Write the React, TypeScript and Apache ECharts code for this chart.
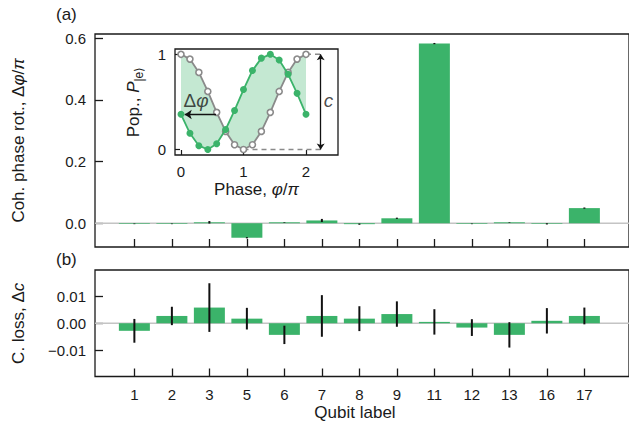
import React, { useEffect, useRef } from "react";
import * as echarts from "echarts";

// ---- data ----
const categories = ["1", "2", "3", "5", "6", "7", "8", "9", "11", "12", "13", "16", "17"];
const phaseRot = [-0.002, -0.002, 0.003, -0.047, 0.003, 0.009, -0.003, 0.016, 0.582, -0.002, 0.003, -0.002, 0.049];
const phaseRotErr = [0.001, 0.001, 0.004, 0.002, 0.001, 0.005, 0.002, 0.002, 0.002, 0.001, 0.001, 0.002, 0.002];
const contrastLoss = [-0.0028, 0.0027, 0.0058, 0.0017, -0.0043, 0.0027, 0.0017, 0.0034, 0.0005, -0.0016, -0.0043, 0.0009, 0.0027];
const contrastLossErr = [0.0044, 0.0034, 0.009, 0.004, 0.0034, 0.0077, 0.0046, 0.0047, 0.0047, 0.0031, 0.0047, 0.0047, 0.0031];
const topTicks = [0, 0.2, 0.4, 0.6];
const bottomTicks = [-0.01, 0, 0.01];

// inset
const insetPhase = [0, 0.143, 0.286, 0.429, 0.571, 0.714, 0.857, 1, 1.143, 1.286, 1.429, 1.571, 1.714, 1.857, 2];
const refPop = [1.0, 0.95, 0.81, 0.61, 0.39, 0.19, 0.05, 0.0, 0.05, 0.19, 0.39, 0.61, 0.81, 0.95, 1.0];
const shiftedPop = [0.37, 0.17, 0.04, 0.0, 0.06, 0.21, 0.41, 0.63, 0.83, 0.96, 1.0, 0.94, 0.79, 0.59, 0.37];
const insetXTicks = [0, 1, 2];
const insetYTicks = [0, 1];
const deltaPhiArrow = [[0.56, 0.368], [0.06, 0.368]];
const contrastArrowX = 2.235;
const dashedTop = [[2, 1], [contrastArrowX, 1]];
const dashedBottom = [[1, 0], [contrastArrowX, 0]];

const GREEN = "#3bb36a";
const INK = "#1a1a1a";
const FONT = "Liberation Sans, Arial, sans-serif";

const X_MIN = -1.05;
const X_MAX = 13.19;
const idx = categories.map((_, i) => i);

function errRender(params: any, api: any) {
  const x = api.value(0);
  const v = api.value(1);
  const e = api.value(2);
  const lo = api.coord([x, v - e]);
  const hi = api.coord([x, v + e]);
  return {
    type: "line",
    shape: { x1: lo[0], y1: lo[1], x2: hi[0], y2: hi[1] },
    style: { stroke: "#111", lineWidth: 2 },
  };
}

function mainX(gridIndex: number, showLabels: boolean) {
  return {
    type: "value",
    gridIndex,
    min: X_MIN,
    max: X_MAX,
    axisLine: { show: false, onZero: false },
    splitLine: { show: false },
    axisTick: { show: true, inside: true, length: 8, customValues: idx, lineStyle: { color: INK, width: 1.3 } },
    axisLabel: {
      show: showLabels,
      customValues: idx,
      margin: 10,
      fontSize: 15,
      color: INK,
      fontFamily: FONT,
      formatter: (v: number) => categories[Math.round(v)] ?? "",
    },
    ...(showLabels
      ? {
          name: "Qubit label",
          nameLocation: "middle",
          nameGap: 27,
          nameTextStyle: { fontSize: 17, color: INK, fontFamily: FONT, padding: [0, 14, 0, 0] },
        }
      : {}),
  };
}

export default function App() {
  const ref = useRef<HTMLDivElement>(null);
  useEffect(() => {
    if (!ref.current) return;
    const chart = echarts.init(ref.current, null, { renderer: "svg" });
    const richName = {
      n: { fontSize: 17, color: INK, fontFamily: FONT },
      i: { fontSize: 17, color: INK, fontFamily: FONT, fontStyle: "italic" },
    };
    const option: any = {
      animation: false,
      backgroundColor: "#fff",
      textStyle: { fontFamily: FONT },
      grid: [
        { left: 95, top: 34, right: -10, height: 213, show: true, borderColor: INK, borderWidth: 1.3, backgroundColor: "transparent" },
        { left: 95, top: 270, right: -10, height: 106.5, show: true, borderColor: INK, borderWidth: 1.3, backgroundColor: "transparent" },
        { left: 175, top: 49, width: 163, height: 106, show: true, borderColor: INK, borderWidth: 1.3, backgroundColor: "#fff" },
      ],
      xAxis: [
        mainX(0, false),
        mainX(1, true),
        {
          type: "value",
          gridIndex: 2,
          min: -0.096,
          max: 2.512,
          axisLine: { show: false, onZero: false },
          splitLine: { show: false },
          axisTick: { show: true, inside: true, length: 5, customValues: insetXTicks, lineStyle: { color: INK, width: 1.2 } },
          axisLabel: { customValues: insetXTicks, margin: 9, fontSize: 15, color: INK, fontFamily: FONT },
          name: "{n|Phase, }{i|φ}{n|/}{i|π}",
          nameLocation: "middle",
          nameGap: 26,
          nameTextStyle: { rich: richName },
        },
      ],
      yAxis: [
        {
          type: "value",
          gridIndex: 0,
          min: -0.077,
          max: 0.613,
          axisLine: { show: false, onZero: false },
          splitLine: { show: false },
          axisTick: { show: true, inside: true, length: 8, customValues: topTicks, lineStyle: { color: INK, width: 1.3 } },
          axisLabel: { customValues: topTicks, margin: 9, fontSize: 15, color: INK, fontFamily: FONT, formatter: (v: number) => v.toFixed(1) },
          name: "{n|Coh. phase rot., Δ}{i|φ}{n|/}{i|π}",
          nameLocation: "middle",
          nameGap: 68,
          nameTextStyle: { rich: richName },
        },
        {
          type: "value",
          gridIndex: 1,
          min: -0.0197,
          max: 0.0197,
          axisLine: { show: false, onZero: false },
          splitLine: { show: false },
          axisTick: { show: true, inside: true, length: 8, customValues: bottomTicks, lineStyle: { color: INK, width: 1.3 } },
          axisLabel: {
            customValues: bottomTicks,
            margin: 9,
            fontSize: 15,
            color: INK,
            fontFamily: FONT,
            formatter: (v: number) => (v < -1e-9 ? "\u2212" + Math.abs(v).toFixed(2) : Math.abs(v).toFixed(2)),
          },
          name: "{n|C. loss, Δ}{i|c}",
          nameLocation: "middle",
          nameGap: 68,
          nameTextStyle: { rich: richName },
        },
        {
          type: "value",
          gridIndex: 2,
          min: -0.058,
          max: 1.056,
          axisLine: { show: false, onZero: false },
          splitLine: { show: false },
          axisTick: { show: true, inside: true, length: 5, customValues: insetYTicks, lineStyle: { color: INK, width: 1.2 } },
          axisLabel: { customValues: insetYTicks, margin: 9, fontSize: 15, color: INK, fontFamily: FONT },
          name: "{n|Pop., }{i|P}{s||e⟩}",
          nameLocation: "middle",
          nameGap: 30,
          nameTextStyle: {
            rich: {
              n: { fontSize: 17, color: INK, fontFamily: FONT, lineHeight: 24 },
              i: { fontSize: 17, color: INK, fontFamily: FONT, fontStyle: "italic", lineHeight: 24 },
              s: { fontSize: 12, color: INK, fontFamily: FONT, lineHeight: 24, verticalAlign: "bottom" },
            },
          },
        },
      ],
      graphic: [
        { type: "text", left: 56, top: 6, style: { text: "(a)", fontSize: 17, fill: INK, fontFamily: FONT } },
        { type: "text", left: 56, top: 251, style: { text: "(b)", fontSize: 17, fill: INK, fontFamily: FONT } },
      ],
      series: [
        // top panel
        {
          type: "line", xAxisIndex: 0, yAxisIndex: 0, z: 1, silent: true, symbol: "none",
          data: [[X_MIN, 0], [X_MAX, 0]], lineStyle: { color: "#c4c4c4", width: 1.5 },
        },
        {
          type: "bar", xAxisIndex: 0, yAxisIndex: 0, z: 2, barWidth: 31,
          data: phaseRot.map((v, i) => [i, v]), itemStyle: { color: GREEN },
        },
        {
          type: "custom", xAxisIndex: 0, yAxisIndex: 0, z: 3, renderItem: errRender,
          encode: { x: 0, y: 1 },
          data: phaseRot.map((v, i) => [i, v, phaseRotErr[i]]),
        },
        // bottom panel
        {
          type: "line", xAxisIndex: 1, yAxisIndex: 1, z: 1, silent: true, symbol: "none",
          data: [[X_MIN, 0], [X_MAX, 0]], lineStyle: { color: "#c4c4c4", width: 1.5 },
        },
        {
          type: "bar", xAxisIndex: 1, yAxisIndex: 1, z: 2, barWidth: 31,
          data: contrastLoss.map((v, i) => [i, v]), itemStyle: { color: GREEN },
        },
        {
          type: "custom", xAxisIndex: 1, yAxisIndex: 1, z: 3, renderItem: errRender,
          encode: { x: 0, y: 1 },
          data: contrastLoss.map((v, i) => [i, v, contrastLossErr[i]]),
        },
        // inset
        {
          type: "custom", xAxisIndex: 2, yAxisIndex: 2, z: 10, silent: true,
          data: [[0, 0]],
          renderItem: (params: any, api: any) => {
            const fwd = insetPhase.map((p, i) => api.coord([p, shiftedPop[i]]));
            const back = insetPhase.map((p, i) => api.coord([p, refPop[i]])).reverse();
            return { type: "polygon", shape: { points: fwd.concat(back) }, style: { fill: "rgba(59,179,106,0.3)" } };
          },
        },
        {
          type: "line", xAxisIndex: 2, yAxisIndex: 2, z: 11, silent: true, symbol: "none",
          data: dashedTop, lineStyle: { color: "#8a8a8a", width: 1.5, type: [5, 4] },
        },
        {
          type: "line", xAxisIndex: 2, yAxisIndex: 2, z: 11, silent: true, symbol: "none",
          data: dashedBottom, lineStyle: { color: "#8a8a8a", width: 1.5, type: [5, 4] },
        },
        {
          type: "line", xAxisIndex: 2, yAxisIndex: 2, z: 12,
          data: insetPhase.map((p, i) => [p, refPop[i]]),
          symbol: "circle", symbolSize: 6, showAllSymbol: true,
          lineStyle: { color: "#8a8a8a", width: 1.8 },
          itemStyle: { color: "#fff", borderColor: "#8a8a8a", borderWidth: 1.6 },
        },
        {
          type: "line", xAxisIndex: 2, yAxisIndex: 2, z: 13,
          data: insetPhase.map((p, i) => [p, shiftedPop[i]]),
          symbol: "circle", symbolSize: 7, showAllSymbol: true,
          lineStyle: { color: GREEN, width: 1.8 },
          itemStyle: { color: GREEN, borderWidth: 0 },
        },
        {
          type: "lines", coordinateSystem: "cartesian2d", xAxisIndex: 2, yAxisIndex: 2, z: 14, silent: true,
          symbol: ["none", "arrow"], symbolSize: 7,
          lineStyle: { color: "#111", width: 1.3, opacity: 1 },
          data: [{ coords: deltaPhiArrow }],
        },
        {
          type: "lines", coordinateSystem: "cartesian2d", xAxisIndex: 2, yAxisIndex: 2, z: 14, silent: true,
          symbol: ["arrow", "arrow"], symbolSize: 6,
          lineStyle: { color: "#111", width: 1.3, opacity: 1 },
          data: [{ coords: [[contrastArrowX, 0], [contrastArrowX, 1]] }],
        },
        {
          type: "scatter", xAxisIndex: 2, yAxisIndex: 2, z: 15, silent: true, symbolSize: 0,
          data: [[0.24, 0.52]],
          label: {
            show: true, position: "inside", formatter: "{n|Δ}{i|φ}",
            rich: {
              n: { fontSize: 19, color: INK, fontFamily: FONT },
              i: { fontSize: 19, color: INK, fontFamily: FONT, fontStyle: "italic" },
            },
          },
        },
        {
          type: "scatter", xAxisIndex: 2, yAxisIndex: 2, z: 15, silent: true, symbolSize: 0,
          data: [[2.36, 0.52]],
          label: { show: true, position: "inside", formatter: "c", fontSize: 19, fontStyle: "italic", color: INK, fontFamily: FONT },
        },
      ],
    };
    chart.setOption(option);
    return () => chart.dispose();
  }, []);
  return <div ref={ref} style={{ position: "absolute", left: 0, top: 0, width: 629, height: 430 }} />;
}
